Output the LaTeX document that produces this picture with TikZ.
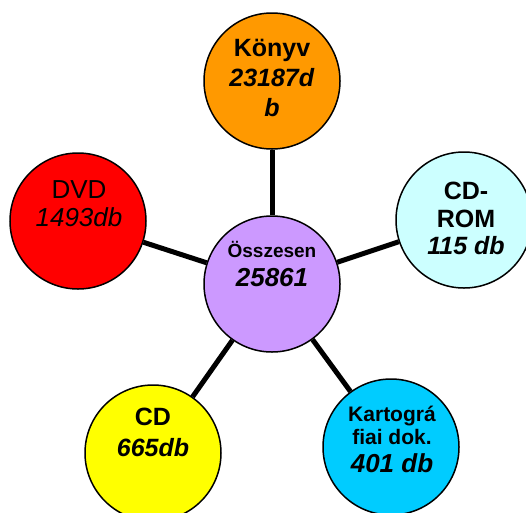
\documentclass[tikz,border=0pt]{standalone}
\usepackage{fontspec}
\setmainfont{Liberation Sans}
\definecolor{konyvfill}{HTML}{FF9900}
\definecolor{dvdfill}{HTML}{FF0000}
\definecolor{cdromfill}{HTML}{CCFFFF}
\definecolor{osszfill}{HTML}{CC99FF}
\definecolor{cdfill}{HTML}{FFFF00}
\definecolor{kartfill}{HTML}{00CCFF}
\begin{document}
\begin{tikzpicture}[x=1pt,y=-1pt,
      bubble/.style={circle,draw=black,line width=1.5pt,minimum size=136pt,inner sep=0pt},
      spoke/.style={line width=5pt},
      lbl/.style={anchor=north,align=center,inner sep=0pt}]
      \useasboundingbox (0,0) rectangle (526,512);
      % circles
      \node[bubble,fill=osszfill] (ossz) at (272,284) {};
      \node[bubble,fill=konyvfill] (konyv) at (272,81) {};
      \node[bubble,fill=dvdfill] (dvd) at (78,221) {};
      \node[bubble,fill=cdromfill] (cdrom) at (464,220) {};
      \node[bubble,fill=cdfill] (cd) at (153,453) {};
      \node[bubble,fill=kartfill] (kart) at (391,447) {};
      % spokes
      \draw[spoke] (ossz) -- (konyv);
      \draw[spoke] (ossz) -- (dvd);
      \draw[spoke] (ossz) -- (cdrom);
      \draw[spoke] (ossz) -- (cd);
      \draw[spoke] (ossz) -- (kart);
      % texts
      \node[lbl,font=\fontsize{26}{29}\selectfont\bfseries] (ossz-t) at (272,241)
        {{\fontsize{19}{29}\selectfont \"Osszesen}\\\textit{25861}};
      \node[lbl,font=\fontsize{25}{30}\selectfont\bfseries] (konyv-t) at (272,39)
        {K\"onyv\\\textit{23187d}\\\textit{b}};
      \node[lbl,font=\fontsize{26}{28}\selectfont] (dvd-t) at (79,180)
        {DVD\\\textit{1493db}};
      \node[lbl,font=\fontsize{25}{27.5}\selectfont\bfseries] (cdrom-t) at (466,182)
        {CD-\\ROM\\\textit{115 db}};
      \node[lbl,font=\fontsize{25}{31}\selectfont\bfseries] (cd-t) at (153,408)
        {CD\\\textit{665db}};
      \node[lbl,font=\fontsize{21}{23}\selectfont\bfseries] (kart-t) at (392,406)
        {Kartogr\'a\\fiai dok.\\[5pt]{\fontsize{26}{23}\selectfont\itshape 401 db}};
\end{tikzpicture}
\end{document}
